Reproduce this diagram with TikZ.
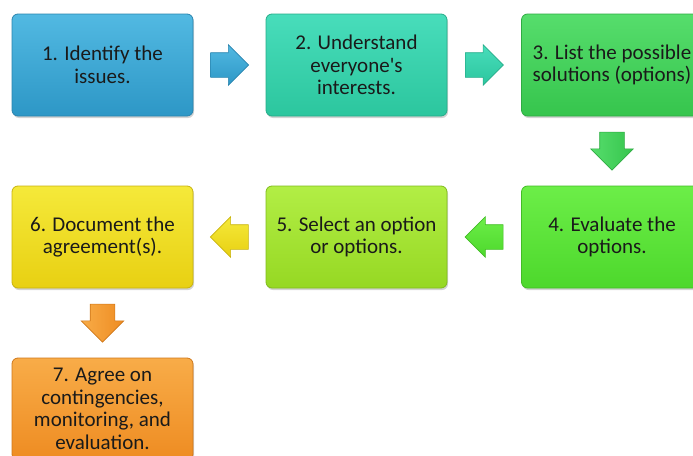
\documentclass[tikz,border=0pt]{standalone}
\usepackage{fontspec}
\setmainfont{Carlito}[Ligatures=TeXOff]
\usetikzlibrary{shapes.arrows,shadows,calc}
\definecolor{c1t}{HTML}{52B9E2}\definecolor{c1b}{HTML}{2D97C6}\definecolor{c1d}{HTML}{2A84AE}
\definecolor{c2t}{HTML}{48DDBB}\definecolor{c2b}{HTML}{2CC69E}\definecolor{c2d}{HTML}{26AC89}
\definecolor{c3t}{HTML}{56DD6C}\definecolor{c3b}{HTML}{36C54D}\definecolor{c3d}{HTML}{2EAB42}
\definecolor{c4t}{HTML}{6CEE48}\definecolor{c4b}{HTML}{4DD82C}\definecolor{c4d}{HTML}{42BC25}
\definecolor{c5t}{HTML}{B2EE45}\definecolor{c5b}{HTML}{96D823}\definecolor{c5d}{HTML}{80BC1C}
\definecolor{c6t}{HTML}{F5E93A}\definecolor{c6b}{HTML}{E8D012}\definecolor{c6d}{HTML}{C8B30E}
\definecolor{c7t}{HTML}{F8AC48}\definecolor{c7b}{HTML}{EE8C22}\definecolor{c7d}{HTML}{CF771A}
\definecolor{txt}{HTML}{1A1A1A}
\tikzset{
  stepbox/.style n args={3}{rectangle, rounded corners=6pt, minimum width=181pt, minimum height=102pt,
    top color=#1, bottom color=#2, draw=#3, line width=0.8pt, align=center, text=txt,
    font=\fontsize{21}{22.5}\selectfont,
    drop shadow={opacity=0.35, shadow xshift=1pt, shadow yshift=-2pt}},
  harr/.style={single arrow, minimum height=38pt, minimum width=40pt,
    single arrow head extend=8pt, single arrow tip angle=90, inner xsep=0pt, inner ysep=12pt,
    line width=0.6pt},
  varr/.style={single arrow, shape border rotate=270, minimum height=38pt, minimum width=42pt,
    single arrow head extend=9pt, single arrow tip angle=90, inner xsep=12pt, inner ysep=0pt,
    line width=0.6pt}
}
\begin{document}
\begin{tikzpicture}[x=1pt,y=-1pt]
\useasboundingbox (0,0) rectangle (693,455);
\clip (0,0) rectangle (693,455);
\node[stepbox={c1t}{c1b}{c1d}] (b1) at (102.5,65) {1. Identify the\\issues.};
\node[stepbox={c2t}{c2b}{c2d}] (b2) at (356.5,65) {2. Understand\\everyone's\\interests.};
\node[stepbox={c3t}{c3b}{c3d}] (b3) at (612,65) {3. List the possible\\solutions (options)};
\node[stepbox={c4t}{c4b}{c4d}] (b4) at (612,237) {4. Evaluate the\\options.};
\node[stepbox={c5t}{c5b}{c5d}] (b5) at (356.5,237) {5. Select an option\\or options.};
\node[stepbox={c6t}{c6b}{c6d}] (b6) at (102.5,237) {6. Document the\\agreement(s).};
\node[stepbox={c7t}{c7b}{c7d}] (b7) at (102.5,409) {7. Agree on\\contingencies,\\monitoring, and\\evaluation.};
\node[harr, xshift=-6pt, top color=c1t, bottom color=c1b, draw=c1d] (a12) at ($(b1.east)!0.5!(b2.west)$) {};
\node[harr, xshift=-6pt, top color=c2t, bottom color=c2b, draw=c2d] (a23) at ($(b2.east)!0.5!(b3.west)$) {};
\node[varr, yshift=6pt, left color=c3t, right color=c3b, draw=c3d] (a34) at ($(b3.south)!0.5!(b4.north)$) {};
\node[harr, shape border rotate=180, xshift=6pt, top color=c4t, bottom color=c4b, draw=c4d] (a45) at ($(b4.west)!0.5!(b5.east)$) {};
\node[harr, shape border rotate=180, xshift=6pt, top color=c6t, bottom color=c6b, draw=c6d] (a56) at ($(b5.west)!0.5!(b6.east)$) {};
\node[varr, yshift=6pt, left color=c7t, right color=c7b, draw=c7d] (a67) at ($(b6.south)!0.5!(b7.north)$) {};
\end{tikzpicture}
\end{document}
